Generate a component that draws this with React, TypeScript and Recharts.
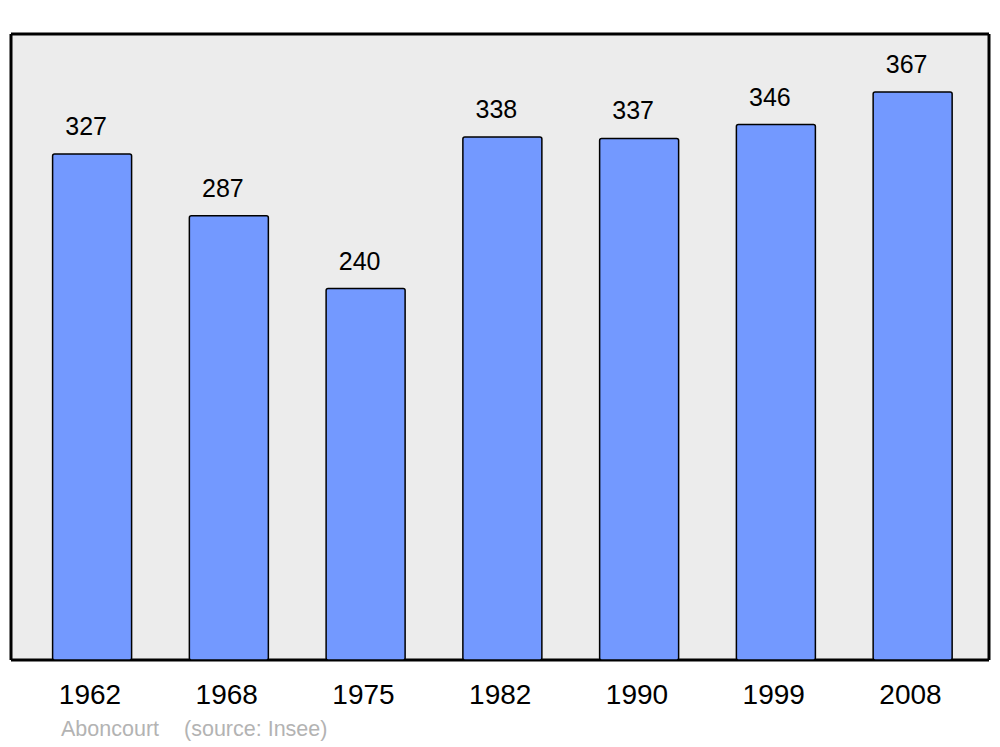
import React from 'react';
import { BarChart, Bar, XAxis, YAxis, CartesianGrid, LabelList } from 'recharts';

const years = ['1962', '1968', '1975', '1982', '1990', '1999', '2008'];
const population = [327, 287, 240, 338, 337, 346, 367];
const placeName = 'Aboncourt';
const sourceNote = '(source: Insee)';

const data = years.map((year, i) => ({ year, population: population[i] }));

const FONT = '"Liberation Sans", Arial, sans-serif';

const ValueLabel = (props: any) => {
  const { x, y, width, value } = props;
  return (
    <text x={x + width / 2 - 6} y={y - 19} textAnchor="middle" fontSize={25} fontFamily={FONT} fill="#000">
      {value}
    </text>
  );
};

const YearTick = (props: any) => {
  const { x, y, payload } = props;
  return (
    <text x={x - 2} y={y + 44} textAnchor="middle" fontSize={28} fontFamily={FONT} fill="#000">
      {payload.value}
    </text>
  );
};

export default function App() {
  return (
    <div style={{ position: 'absolute', left: 0, top: 0, width: 1000, height: 747, background: '#fff' }}>
      <BarChart
        width={1000}
        height={747}
        data={data}
        margin={{ top: 34, left: 11, right: 11, bottom: 27 }}
      >
        <CartesianGrid
          fill="#ececec"
          stroke="#000"
          strokeWidth={3}
          horizontalCoordinatesGenerator={(p: any) => [p.offset.top, p.offset.top + p.offset.height]}
          verticalCoordinatesGenerator={(p: any) => [p.offset.left, p.offset.left + p.offset.width]}
        />
        <XAxis
          dataKey="year"
          height={60}
          axisLine={false}
          tickLine={false}
          tickSize={0}
          tickMargin={0}
          padding={{ left: 12.6, right: 8.1 }}
          tick={<YearTick />}
          interval={0}
        />
        <YAxis hide domain={[0, 404.5]} />
        <Bar
          dataKey="population"
          fill="#7399ff"
          stroke="#000"
          strokeWidth={1.5}
          barSize={79}
          radius={2}
          isAnimationActive={false}
        >
          <LabelList dataKey="population" content={<ValueLabel />} />
        </Bar>
      </BarChart>
      <div
        style={{
          position: 'absolute',
          left: 61,
          top: 719,
          fontFamily: FONT,
          fontSize: 21.5,
          lineHeight: '21.5px',
          color: '#b3b3b3',
          whiteSpace: 'nowrap',
        }}
      >
        <span>{placeName}</span>
        <span style={{ marginLeft: 25 }}>{sourceNote}</span>
      </div>
    </div>
  );
}
